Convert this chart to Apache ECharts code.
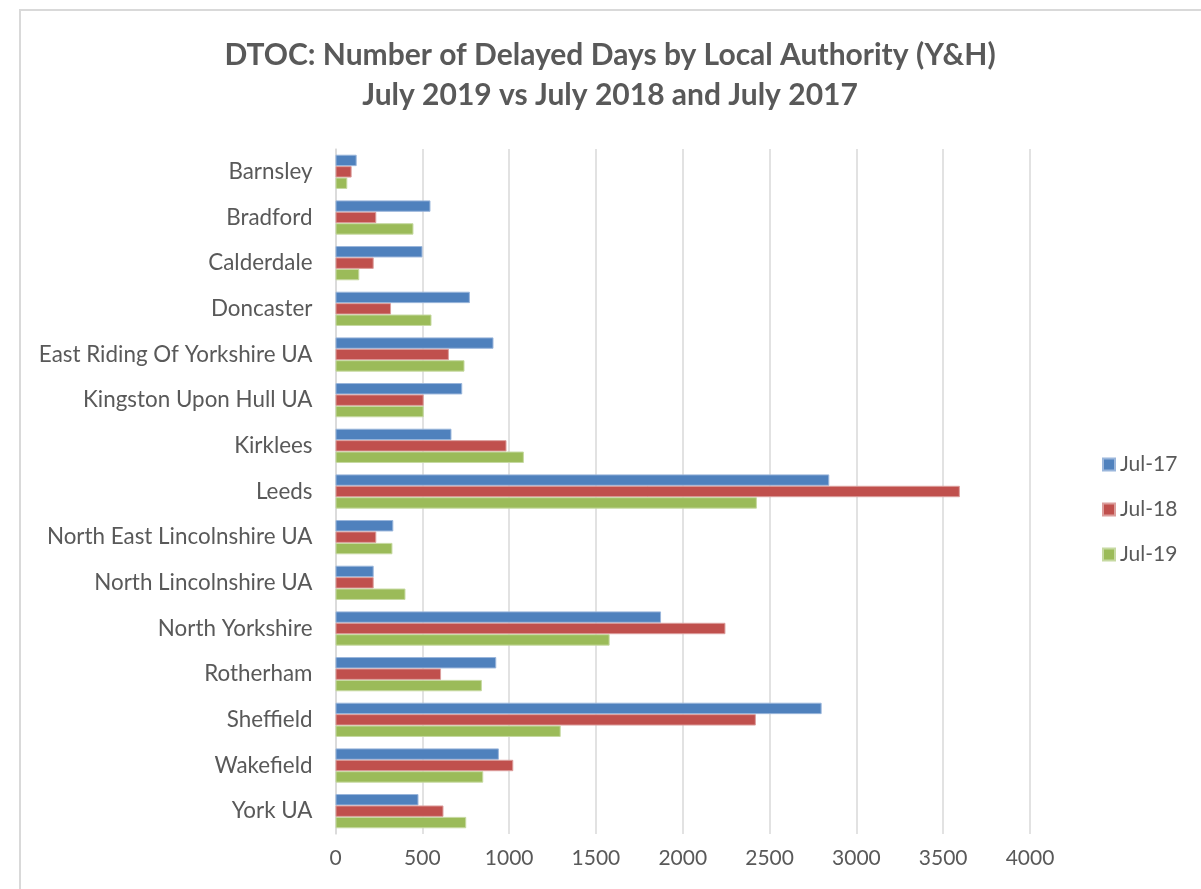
<!DOCTYPE html>
<html>
<head>
<meta charset="utf-8">
<script src="https://cdn.jsdelivr.net/npm/echarts@6/dist/echarts.min.js"></script>
<style>html,body{margin:0;padding:0;background:#fff}#c{width:1201px;height:889px}</style>
</head>
<body>
<div id="c"></div>
<script>
const categories = ["Barnsley","Bradford","Calderdale","Doncaster","East Riding Of Yorkshire UA","Kingston Upon Hull UA","Kirklees","Leeds","North East Lincolnshire UA","North Lincolnshire UA","North Yorkshire","Rotherham","Sheffield","Wakefield","York UA"];
const jul17 = [122,547,501,774,910,730,668,2844,333,220,1875,926,2800,941,478];
const jul18 = [93,235,220,320,653,508,985,3596,235,220,2246,608,2421,1024,622];
const jul19 = [68,449,137,553,743,508,1085,2427,328,403,1579,843,1297,851,753];
const seriesNames = ["Jul-17","Jul-18","Jul-19"];
const xTicks = [0,500,1000,1500,2000,2500,3000,3500,4000];

const FONT = 'Lato';
const colors = ['#4F81BD','#C0504D','#9BBB59'];
const borders = ['#9AB6DB','#DC9E9C','#C6D9A1'];
const chart = echarts.init(document.getElementById('c'));
const data = [jul17, jul18, jul19];
chart.setOption({
  animation: false,
  backgroundColor: '#fff',
  textStyle: {fontFamily: FONT},
  title: {
    text: 'DTOC: Number of Delayed Days by Local Authority (Y&H)\nJuly 2019 vs July 2018 and July 2017',
    left: 610, top: 35, textAlign: 'center', padding: 0,
    textStyle: {fontFamily: FONT, fontSize: 30, fontWeight: 'bold', color: '#595959', lineHeight: 40}
  },
  graphic: [{type:'rect', shape:{x:20,y:10,width:1250,height:950}, style:{fill:'none', stroke:'#D9D9D9', lineWidth:2}, silent:true}],
  legend: {
    orient: 'vertical', left: 1097, top: 449, itemGap: 24,
    itemWidth: 12, itemHeight: 12, icon: 'rect',
    data: seriesNames,
    textStyle: {fontFamily: FONT, fontSize: 21, color: '#595959'}
  },
  grid: {left: 335.5, right: 171, top: 149, bottom: 55, containLabel: false},
  xAxis: {
    type: 'value', min: 0, max: 4000, interval: 500,
    axisLine: {show: false}, axisTick: {show: false},
    splitLine: {lineStyle: {color: '#D9D9D9', width: 1.5}},
    axisLabel: {fontFamily: FONT, fontSize: 21, color: '#595959', margin: 14,
      formatter: v => xTicks.includes(v) ? String(v) : ''}
  },
  yAxis: {
    type: 'category', data: categories, inverse: true,
    axisLine: {lineStyle: {color: '#D9D9D9', width: 1.5}}, axisTick: {show: false},
    axisLabel: {fontFamily: FONT, fontSize: 22.4, color: '#595959', margin: 23}
  },
  series: seriesNames.map((n,i) => ({
    name: n, type: 'bar', data: data[i],
    barGap: '0%', barCategoryGap: '25%',
    itemStyle: {color: colors[i], borderColor: borders[i], borderWidth: 1}
  }))
});
</script>
</body>
</html>
